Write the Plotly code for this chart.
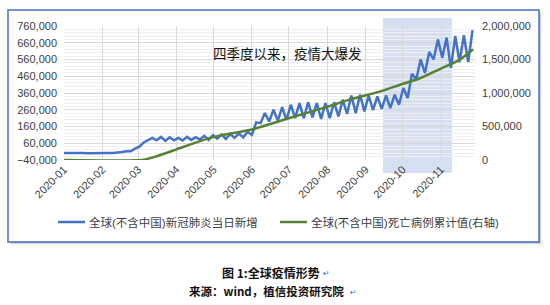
import pandas as pd
import plotly.graph_objects as go

# ---------------- data ----------------
# weekly (trough, peak) readings of daily new cases, thousands; week k starts at 2019-12-30 + 7k
week_start = "2019-12-30"
new_trough = [1, 1, 1, 1, 1, 1, 2, 8, 12, 40, 80, 78, 74, 78, 76, 80, 82, 80, 88, 86,
              92, 95, 110, 180, 190, 195, 200, 210, 210, 215, 205, 210, 220, 235, 240, 250,
              258, 265, 270, 290, 330, 440, 480, 560, 570, 510, 545, 545]
new_peak = [2, 2, 2, 2, 2, 2, 3, 12, 28, 65, 92, 98, 96, 92, 98, 96, 104, 108, 112, 115,
            118, 128, 185, 240, 260, 275, 290, 300, 305, 300, 300, 305, 320, 345, 350, 345,
            340, 345, 350, 390, 475, 560, 605, 680, 690, 700, 705, 735]

death_dates = ["2020-01-01", "2020-03-04", "2020-03-15", "2020-04-01", "2020-04-20", "2020-05-04",
               "2020-06-01", "2020-07-02", "2020-08-01", "2020-08-19", "2020-09-13", "2020-09-29",
               "2020-10-15", "2020-10-31", "2020-11-16", "2020-11-27"]
death_cum = [0, 0, 50000, 159000, 282000, 356000, 456000, 630000, 793000, 901000, 1024000,
             1124000, 1220000, 1357000, 1495000, 1654000]

month_ticks = ["2020-01", "2020-02", "2020-03", "2020-04", "2020-05", "2020-06",
               "2020-07", "2020-08", "2020-09", "2020-10", "2020-11"]
highlight = ["2020-09-15", "2020-11-10"]

name_new = "全球(不含中国)新冠肺炎当日新增"
name_death = "全球(不含中国)死亡病例累计值(右轴)"
note = "四季度以来，疫情大爆发"
caption1 = "图 1:全球疫情形势"
caption2 = "来源：wind，植信投资研究院"

BLUE, GREEN = "#4472C4", "#548235"

# ---------------- build series ----------------
ws = pd.Timestamp(week_start)
bx, by = [], []
for k, (t, p) in enumerate(zip(new_trough, new_peak)):
    bx.append(ws + pd.Timedelta(days=7 * k))
    by.append(t * 1000)
    bx.append(ws + pd.Timedelta(days=7 * k, hours=84))
    by.append(p * 1000)

W, H = 550, 305
L, R, T, B = 64, 75, 26, 145
PW, PH = W - L - R, H - T - B


def px_x(px):
    return (px - L) / PW


def px_y(py):
    return (H - B - py) / PH


CJK = "Liberation Sans, Noto Sans CJK SC, sans-serif"

fig = go.Figure()
fig.add_trace(go.Scatter(x=bx, y=by, name=name_new, mode="lines",
                         line=dict(color=BLUE, width=2.5), yaxis="y"))
fig.add_trace(go.Scatter(x=pd.to_datetime(death_dates), y=death_cum, name=name_death, mode="lines",
                         line=dict(color=GREEN, width=2.5, shape="spline", smoothing=0.5),
                         yaxis="y2"))

shapes = []
# frame shadow and frame
for off, col in [(3, "rgba(0,0,0,0.06)"), (2, "rgba(0,0,0,0.10)"), (1, "rgba(0,0,0,0.14)")]:
    shapes.append(dict(type="rect", xref="paper", yref="paper", layer="below",
                       x0=px_x(8 + off), x1=px_x(539 + off), y0=px_y(242 + off), y1=px_y(10 + off),
                       line=dict(width=0), fillcolor=col))
shapes.append(dict(type="rect", xref="paper", yref="paper", layer="below",
                   x0=px_x(8), x1=px_x(539), y0=px_y(242), y1=px_y(10),
                   line=dict(color=BLUE, width=1.5), fillcolor="white"))
# highlighted period
shapes.append(dict(type="rect", xref="x", yref="paper", layer="below",
                   x0=highlight[0], x1=highlight[1], y0=px_y(173), y1=px_y(18),
                   line=dict(width=0), fillcolor="rgba(68,114,196,0.22)"))
# manual legend samples
for x0, x1, col in [(58, 85, BLUE), (280, 307, GREEN)]:
    shapes.append(dict(type="line", xref="paper", yref="paper", x0=px_x(x0), x1=px_x(x1),
                       y0=px_y(222), y1=px_y(222), line=dict(color=col, width=2.5)))

annotations = [
    dict(text=note, xref="paper", yref="paper", x=px_x(287), y=px_y(53), showarrow=False,
         font=dict(family="Noto Sans CJK SC", size=13.5, color="#111111"), xanchor="center", yanchor="middle"),
    dict(text=name_new, xref="paper", yref="paper", x=px_x(87), y=px_y(222), showarrow=False,
         font=dict(family=CJK, size=11.5, color="#404040"), xanchor="left", yanchor="middle"),
    dict(text=name_death, xref="paper", yref="paper", x=px_x(309), y=px_y(222), showarrow=False,
         font=dict(family=CJK, size=11.5, color="#404040"), xanchor="left", yanchor="middle"),
    dict(text="<b>" + caption1 + "</b>", xref="paper", yref="paper", x=px_x(271), y=px_y(272),
         showarrow=False, font=dict(family="Noto Sans CJK SC", size=12, color="#111111"),
         xanchor="center", yanchor="middle"),
    dict(text="<b>" + caption2 + "</b>", xref="paper", yref="paper", x=px_x(346), y=px_y(291),
         showarrow=False, font=dict(family="Noto Sans CJK SC", size=11.5, color="#111111"),
         xanchor="right", yanchor="middle"),
    dict(text="↵", xref="paper", yref="paper", x=px_x(326), y=px_y(273), showarrow=False,
         font=dict(family="DejaVu Sans", size=8, color="#2f6fe0"), xanchor="center", yanchor="middle"),
    dict(text="↵", xref="paper", yref="paper", x=px_x(353), y=px_y(292), showarrow=False,
         font=dict(family="DejaVu Sans", size=8, color="#2f6fe0"), xanchor="center", yanchor="middle"),
]

tickfont = dict(family="Liberation Sans, Arial, sans-serif", size=11, color="#404040")

fig.update_layout(
    width=W, height=H,
    margin=dict(l=L, r=R, t=T, b=B, pad=0),
    paper_bgcolor="white", plot_bgcolor="rgba(0,0,0,0)",
    shapes=shapes, annotations=annotations,
    showlegend=False,
    xaxis=dict(type="date", range=["2020-01-01", "2020-11-28 12:00"],
               tickvals=[m + "-01" for m in month_ticks], ticktext=month_ticks,
               tickangle=-45, tickfont=tickfont, showgrid=True, gridcolor="#d9d9d9", gridwidth=1,
               showline=False, zeroline=False, ticks=""),
    yaxis=dict(range=[-40000, 760000], tick0=-40000, dtick=100000, tickformat=",d",
               tickfont=tickfont, showgrid=True, gridcolor="#d9d9d9", gridwidth=1,
               zeroline=False, showline=False, ticks="", ticklabelstandoff=6,
               minor=dict(tick0=-40000, dtick=20000, showgrid=True, gridcolor="#efefef", gridwidth=1)),
    yaxis2=dict(range=[0, 2000000], tick0=0, dtick=500000, tickformat=",d", overlaying="y",
                side="right", tickfont=tickfont, showgrid=False, zeroline=False, showline=False,
                ticks="", ticklabelstandoff=6),
)

fig.write_html("out.html")
